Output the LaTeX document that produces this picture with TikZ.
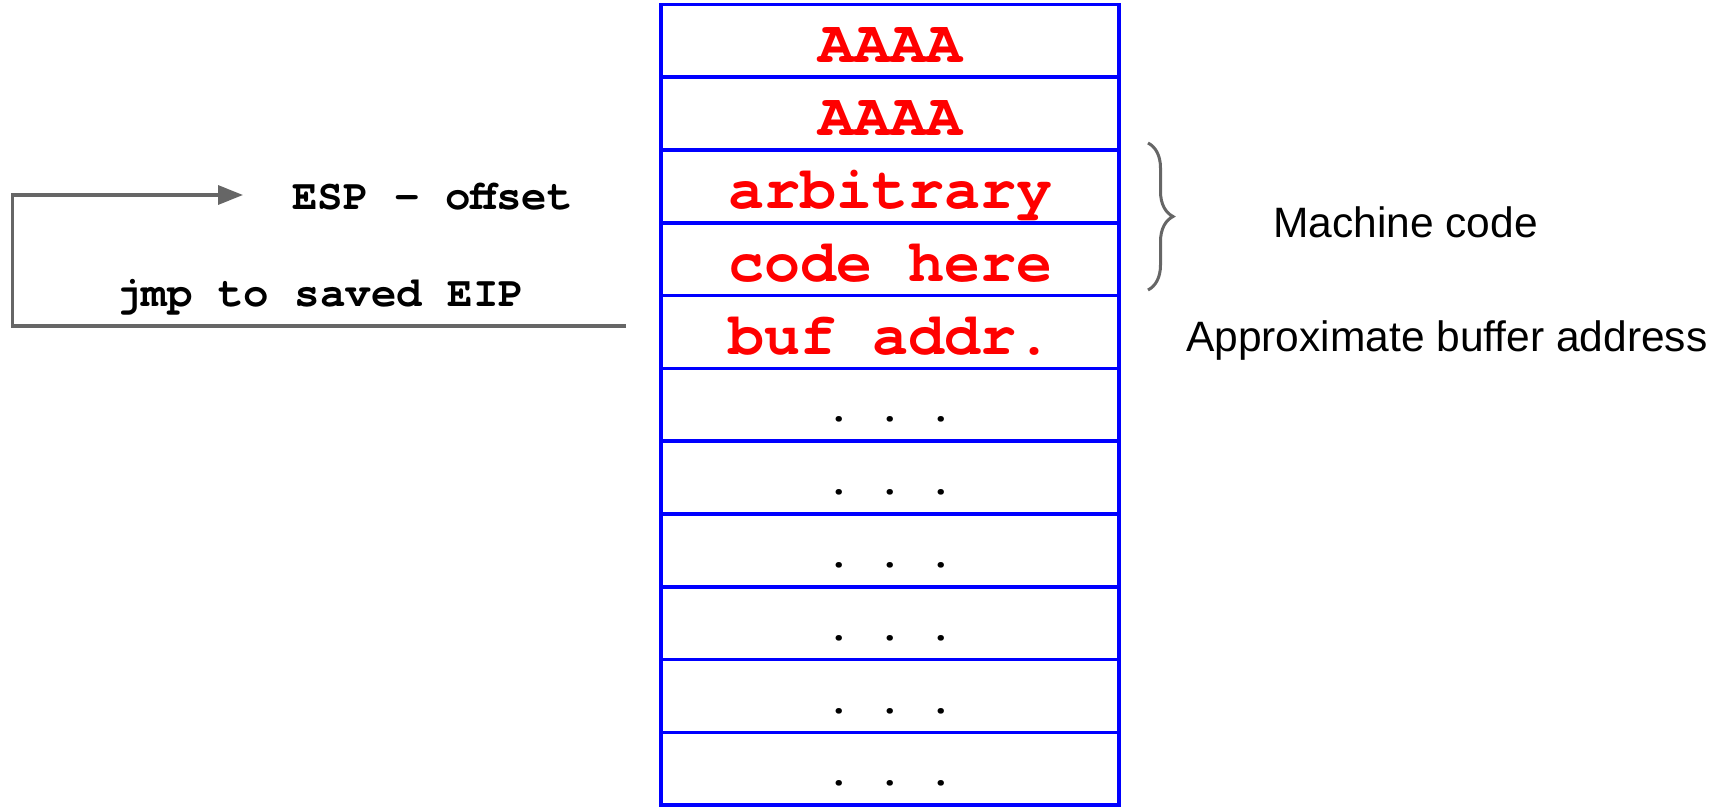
\documentclass[tikz,border=0pt]{standalone}
\usepackage{fontspec}
\setmainfont{Liberation Sans}
\setmonofont{texgyrecursor}[Extension=.otf,UprightFont=*-regular,BoldFont=*-bold]
\usetikzlibrary{arrows.meta,decorations.pathreplacing}
\definecolor{stackblue}{RGB}{0,0,255}
\definecolor{payloadred}{RGB}{255,0,0}
\definecolor{linkgray}{RGB}{102,102,102}
\begin{document}
\begin{tikzpicture}[x=1pt,y=-1pt,
  cell/.style={draw=stackblue,line width=3.5pt,minimum width=458pt,
    minimum height=72.8pt,inner sep=0pt,outer sep=0pt},
  payload/.style={cell,text=payloadred,
    font=\fontsize{60}{60}\selectfont\ttfamily\bfseries,
    text height=44pt,text depth=0pt},
  filler/.style={cell,text=black,
    font=\fontsize{42.5}{42.5}\selectfont\ttfamily\bfseries,
    text height=34pt,text depth=0pt},
  codelabel/.style={font=\fontsize{42.5}{42.5}\selectfont\ttfamily\bfseries,
    anchor=base,inner sep=0pt},
  note/.style={font=\fontsize{42.5}{42.5}\selectfont,anchor=base west,inner sep=0pt},
  link/.style={draw=linkgray,line width=3.3pt}]
  \useasboundingbox (0,0) rectangle (1727,806);

  % stack cells, top to bottom
  \node[payload] (r1) at (890,40.8)  {AAAA};
  \node[payload] (r2) at (890,113.6) {AAAA};
  \node[payload] (r3) at (890,186.4) {arbitrary};
  \node[payload] (r4) at (890,259.2) {code here};
  \node[payload] (r5) at (890,332)   {buf addr.};
  \foreach \k in {6,...,11}
    \node[filler] (r\k) at (890,{4.4+72.8*(\k-0.5)}) {. . .};

  % labels on the left
  \node[codelabel] (esp) at (432.5,209.3) {ESP - offset};
  \node[codelabel] (jmp) at (320,306.7) {jmp to saved EIP};

  % notes on the right
  \node[note] (mc) at (1273,237.3) {Machine code};
  \node[note] (approx) at (1186,351.7) {Approximate buffer address};

  % jump back to the shellcode
  \coordinate (jmpfrom) at (626,326);
  \coordinate (turn) at (12.3,326);
  \coordinate (espto) at (243,195);
  \draw[link,-{Triangle[length=25pt,width=19pt]}] (jmpfrom) -- (turn) |- (espto);

  % brace over the machine-code cells
  \coordinate (bracetop) at (1148,143);
  \coordinate (bracebot) at (1148,290);
  \draw[link,line width=3pt,decorate,decoration={brace,amplitude=25pt}]
    (bracetop) -- (bracebot);
\end{tikzpicture}
\end{document}
